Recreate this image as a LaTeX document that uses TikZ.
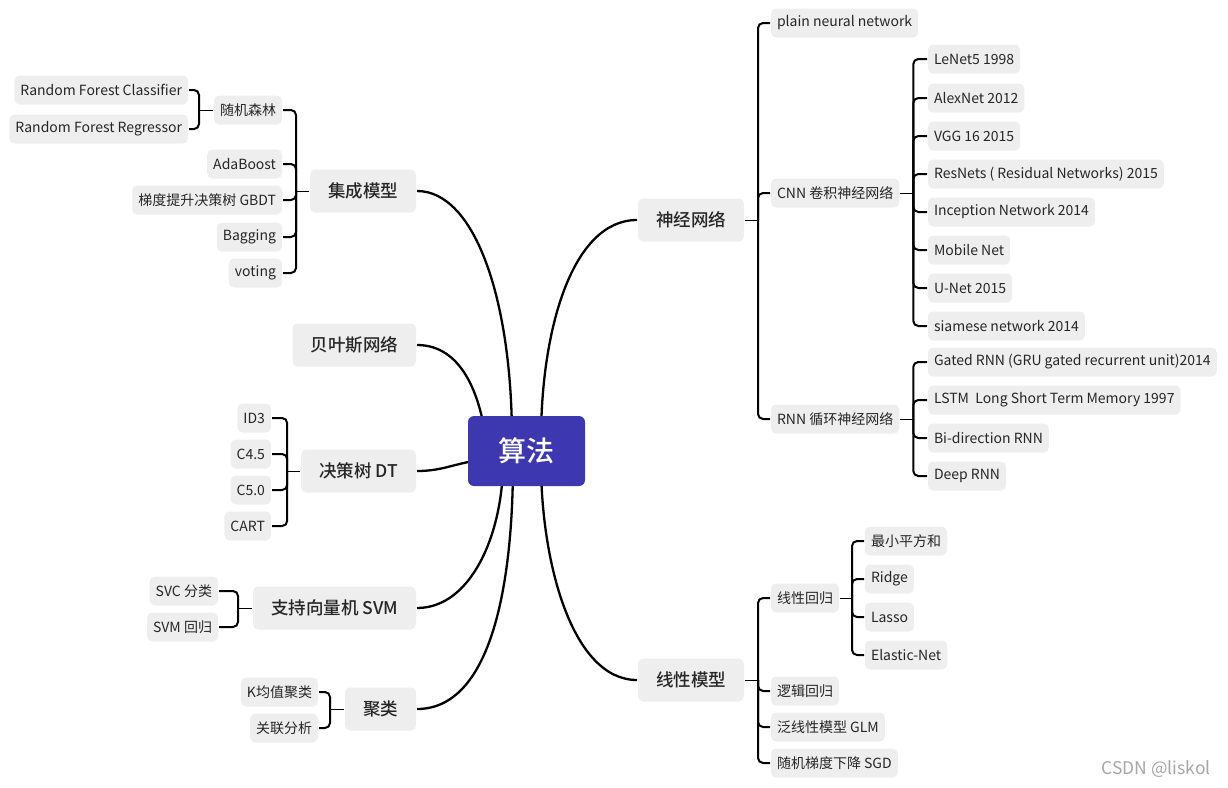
\documentclass[tikz,border=0pt]{standalone}
\usepackage{fontspec}
\setmainfont{Noto Sans CJK SC}
\newfontfamily\medfont{Noto Sans CJK SC Medium}
\usetikzlibrary{positioning, backgrounds}
\definecolor{topic}{HTML}{3D38B0}
\definecolor{boxgray}{HTML}{EEEEEE}
\definecolor{ink}{HTML}{262626}

\begin{document}
\begin{tikzpicture}[
    x=1pt, y=-1pt,
    line width=2pt,
    font=\fontsize{14}{16}\selectfont,
    leaf/.style={
        fill=boxgray,
        rounded corners=5pt,
        text=ink,
        minimum height=29pt,
        inner xsep=6pt,
        inner ysep=0pt
    },
    branch/.style={leaf, font=\fontsize{17.5}{20}\selectfont\medfont, minimum height=43pt, inner xsep=18pt},
    rootbox/.style={
        fill=topic,
        rounded corners=6pt,
        text=white,
        minimum width=117pt,
        minimum height=70pt,
        font=\fontsize{28}{32}\selectfont\medfont
    },
    bracket/.style={rounded corners=5pt, line width=2pt},
    curve/.style={line width=2.3pt}
]
\useasboundingbox (0,0) rectangle (1228,787);

% root
\node[rootbox] (root) at (526.5,451) {算法};

% main topics
\node[branch, anchor=east] (ens) at (417,191) {集成模型};
\node[branch, anchor=east] (bayes) at (417,345) {贝叶斯网络};
\node[branch, anchor=east] (dt) at (417,471) {决策树 DT};
\node[branch, anchor=east] (svm) at (417,608) {支持向量机 SVM};
\node[branch, anchor=east] (clu) at (417,709) {聚类};
\node[branch, anchor=west] (nn) at (637,220) {神经网络};
\node[branch, anchor=west] (lin) at (637,680) {线性模型};

% ensemble
\node[leaf, anchor=east] (rf) at (283,110) {随机森林};
\node[leaf, anchor=east] (ada) at (283,164) {AdaBoost};
\node[leaf, anchor=east] (gbdt) at (283,200) {梯度提升决策树 GBDT};
\node[leaf, anchor=east] (bag) at (283,237) {Bagging};
\node[leaf, anchor=east] (vote) at (283,273) {voting};
\node[leaf, anchor=east] (rfc) at (189,90) {Random Forest Classifier};
\node[leaf, anchor=east] (rfr) at (189,129) {Random Forest Regressor};

% decision tree
\node[leaf, anchor=east] (id3) at (272,418) {ID3};
\node[leaf, anchor=east] (c45) at (272,454) {C4.5};
\node[leaf, anchor=east] (c50) at (272,490) {C5.0};
\node[leaf, anchor=east] (cart) at (272,526) {CART};

% svm
\node[leaf, anchor=east] (svc) at (219,591) {SVC 分类};
\node[leaf, anchor=east] (svr) at (219,627) {SVM 回归};

% clustering
\node[leaf, anchor=east] (km) at (319,692) {K均值聚类};
\node[leaf, anchor=east] (assoc) at (319,728) {关联分析};

% neural networks
\node[leaf, anchor=west] (plain) at (770,23) {plain neural network};
\node[leaf, anchor=west] (cnn) at (770,193) {CNN 卷积神经网络};
\node[leaf, anchor=west] (rnn) at (770,419) {RNN 循环神经网络};
\node[leaf, anchor=west] (lenet) at (927,59) {LeNet5 1998};
\node[leaf, anchor=west] (alex) at (927,98) {AlexNet 2012};
\node[leaf, anchor=west] (vgg) at (927,136) {VGG 16 2015};
\node[leaf, anchor=west] (res) at (927,174) {ResNets ( Residual Networks) 2015};
\node[leaf, anchor=west] (incep) at (927,212) {Inception Network 2014};
\node[leaf, anchor=west] (mobile) at (927,250) {Mobile Net};
\node[leaf, anchor=west] (unet) at (927,288) {U-Net 2015};
\node[leaf, anchor=west] (siam) at (927,326) {siamese network 2014};
\node[leaf, anchor=west] (gru) at (927,362) {Gated RNN (GRU gated recurrent unit)2014};
\node[leaf, anchor=west] (lstm) at (927,400) {LSTM\ \ Long Short Term Memory 1997};
\node[leaf, anchor=west] (birnn) at (927,438) {Bi-direction RNN};
\node[leaf, anchor=west] (deep) at (927,476) {Deep RNN};

% linear models
\node[leaf, anchor=west] (linreg) at (770,598) {线性回归};
\node[leaf, anchor=west] (logreg) at (770,691) {逻辑回归};
\node[leaf, anchor=west] (glm) at (770,727) {泛线性模型 GLM};
\node[leaf, anchor=west] (sgd) at (770,763) {随机梯度下降 SGD};
\node[leaf, anchor=west] (ls) at (864,541) {最小平方和};
\node[leaf, anchor=west] (ridge) at (864,579) {Ridge};
\node[leaf, anchor=west] (lasso) at (864,617) {Lasso};
\node[leaf, anchor=west] (enet) at (864,655) {Elastic-Net};

\node[text=black!35, font=\fontsize{17.5}{20}\selectfont, anchor=east] (mark) at (1215,769) {CSDN @liskol};

% ends of the main curves, under the root box
\coordinate (r-ens) at (512,440);
\coordinate (r-bayes) at (486,440);
\coordinate (r-dt) at (492,459);
\coordinate (r-svm) at (503,462);
\coordinate (r-clu) at (513,462);
\coordinate (r-nn) at (541,440);
\coordinate (r-lin) at (541,462);

\begin{scope}[on background layer]
    \draw[curve] (ens.east) .. controls +(58,0) and +(0,-140) .. (r-ens);
    \draw[curve] (bayes.east) .. controls +(45,0) and +(-6,-45) .. (r-bayes);
    \draw[curve] (dt.east) .. controls +(30,0) and +(-35,2) .. (r-dt);
    \draw[curve] (svm.east) .. controls +(55,0) and +(0,70) .. (r-svm);
    \draw[curve] (clu.east) .. controls +(75,0) and +(0,120) .. (r-clu);
    \draw[curve] (nn.west) .. controls +(-65,0) and +(0,-110) .. (r-nn);
    \draw[curve] (lin.west) .. controls +(-65,0) and +(0,100) .. (r-lin);

    % brackets, left side
    \draw (ens.west) -- ++(-13,0);
    \draw[bracket] ([xshift=-13pt]ens.west) |- (rf.east);
    \draw[bracket] ([xshift=-13pt]ens.west) |- (ada.east);
    \draw[bracket] ([xshift=-13pt]ens.west) |- (gbdt.east);
    \draw[bracket] ([xshift=-13pt]ens.west) |- (bag.east);
    \draw[bracket] ([xshift=-13pt]ens.west) |- (vote.east);
    \draw (rf.west) -- ++(-14,0);
    \draw[bracket] ([xshift=-14pt]rf.west) |- (rfc.east);
    \draw[bracket] ([xshift=-14pt]rf.west) |- (rfr.east);
    \draw (dt.west) -- ++(-13,0);
    \draw[bracket] ([xshift=-13pt]dt.west) |- (id3.east);
    \draw[bracket] ([xshift=-13pt]dt.west) |- (c45.east);
    \draw[bracket] ([xshift=-13pt]dt.west) |- (c50.east);
    \draw[bracket] ([xshift=-13pt]dt.west) |- (cart.east);
    \draw (svm.west) -- ++(-14,0);
    \draw[bracket] ([xshift=-14pt]svm.west) |- (svc.east);
    \draw[bracket] ([xshift=-14pt]svm.west) |- (svr.east);
    \draw (clu.west) -- ++(-14,0);
    \draw[bracket] ([xshift=-14pt]clu.west) |- (km.east);
    \draw[bracket] ([xshift=-14pt]clu.west) |- (assoc.east);

    % brackets, right side
    \draw (nn.east) -- ++(13,0);
    \draw[bracket] ([xshift=13pt]nn.east) |- (plain.west);
    \draw[bracket] ([xshift=13pt]nn.east) |- (cnn.west);
    \draw[bracket] ([xshift=13pt]nn.east) |- (rnn.west);
    \draw (cnn.east) -- ++(13,0);
    \draw[bracket] ([xshift=13pt]cnn.east) |- (lenet.west);
    \draw[bracket] ([xshift=13pt]cnn.east) |- (alex.west);
    \draw[bracket] ([xshift=13pt]cnn.east) |- (vgg.west);
    \draw[bracket] ([xshift=13pt]cnn.east) |- (res.west);
    \draw[bracket] ([xshift=13pt]cnn.east) |- (incep.west);
    \draw[bracket] ([xshift=13pt]cnn.east) |- (mobile.west);
    \draw[bracket] ([xshift=13pt]cnn.east) |- (unet.west);
    \draw[bracket] ([xshift=13pt]cnn.east) |- (siam.west);
    \draw (rnn.east) -- ++(13,0);
    \draw[bracket] ([xshift=13pt]rnn.east) |- (gru.west);
    \draw[bracket] ([xshift=13pt]rnn.east) |- (lstm.west);
    \draw[bracket] ([xshift=13pt]rnn.east) |- (birnn.west);
    \draw[bracket] ([xshift=13pt]rnn.east) |- (deep.west);
    \draw (lin.east) -- ++(13,0);
    \draw[bracket] ([xshift=13pt]lin.east) |- (linreg.west);
    \draw[bracket] ([xshift=13pt]lin.east) |- (logreg.west);
    \draw[bracket] ([xshift=13pt]lin.east) |- (glm.west);
    \draw[bracket] ([xshift=13pt]lin.east) |- (sgd.west);
    \draw (linreg.east) -- ++(12,0);
    \draw[bracket] ([xshift=12pt]linreg.east) |- (ls.west);
    \draw[bracket] ([xshift=12pt]linreg.east) |- (ridge.west);
    \draw[bracket] ([xshift=12pt]linreg.east) |- (lasso.west);
    \draw[bracket] ([xshift=12pt]linreg.east) |- (enet.west);
\end{scope}

\end{tikzpicture}
\end{document}
